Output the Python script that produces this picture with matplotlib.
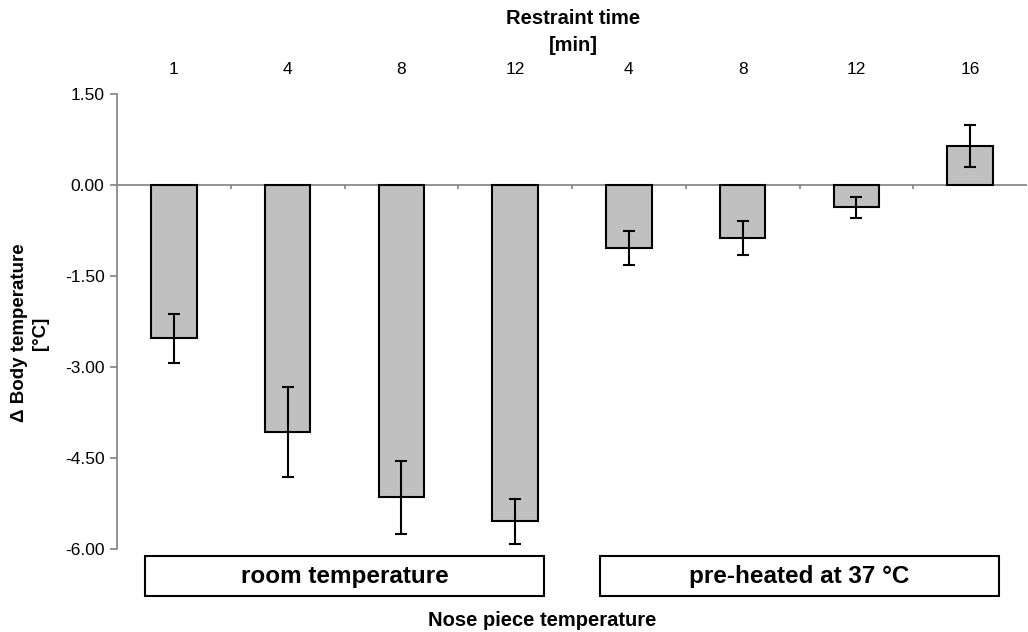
import numpy as np
import matplotlib

matplotlib.use("Agg")
import matplotlib.pyplot as plt
from matplotlib.patches import Rectangle
import matplotlib.transforms as mtransforms

plt.rcParams["font.family"] = ["Liberation Sans", "DejaVu Sans"]

restraint_min = ["1", "4", "8", "12", "4", "8", "12", "16"]
delta_temp = [-2.53, -4.07, -5.15, -5.54, -1.04, -0.87, -0.37, 0.64]
delta_err = [0.40, 0.745, 0.60, 0.37, 0.28, 0.28, 0.18, 0.35]
groups = ["room temperature", "pre-heated at 37 °C"]
group_members = [[0, 1, 2, 3], [4, 5, 6, 7]]
yticks = [1.5, 0.0, -1.5, -3.0, -4.5, -6.0]

W, H = 1028, 632
fig = plt.figure(figsize=(W / 100, H / 100), dpi=100)
ax = fig.add_axes([117 / W, (H - 549) / H, 910 / W, 455 / H])

x = np.arange(len(delta_temp))
ax.bar(x, delta_temp, width=0.4, color="#c0c0c0", edgecolor="black",
       linewidth=1.5, zorder=3)
ax.errorbar(x, delta_temp, yerr=delta_err, fmt="none", ecolor="black",
            elinewidth=1.5, capsize=4.5, capthick=1.5, zorder=4)

ax.set_xlim(-0.5, len(x) - 0.5)
ax.set_ylim(-6, 1.5)
ax.axhline(0, color="#808080", lw=1.2, zorder=2)
# small category ticks hanging below the zero line
bounds = x[:-1] + 0.5
ax.vlines(bounds, -0.07, 0, color="#808080", lw=1.2, zorder=2)

for s in ["top", "right", "bottom"]:
    ax.spines[s].set_visible(False)
ax.spines["left"].set_color("#808080")
ax.spines["left"].set_linewidth(1.2)

ax.set_yticks(yticks)
ax.set_yticklabels([f"{v:.2f}" for v in yticks], fontsize=12.5)
ax.tick_params(axis="y", length=5, color="#808080", width=1.2, pad=4)

ax.xaxis.tick_top()
ax.set_xticks(x)
ax.set_xticklabels(restraint_min, fontsize=12.5)
ax.tick_params(axis="x", length=0, pad=12)

# group boxes below the plot
trans = mtransforms.blended_transform_factory(ax.transData, ax.transAxes)
for name, members in zip(groups, group_members):
    c = np.mean(members)
    rect = Rectangle((c - 1.75, -0.103), 3.5, 0.088, transform=trans,
                     facecolor="white", edgecolor="black", lw=1.5,
                     clip_on=False)
    ax.add_patch(rect)
    ax.text(c, -0.06, name, transform=trans, ha="center", va="center",
            fontsize=17.5, fontweight="bold")

fig.text(542 / W, 1 - 621 / H, "Nose piece temperature", ha="center",
         va="center", fontsize=14.5, fontweight="bold")
fig.text(573 / W, 1 - 32 / H, "Restraint time\n[min]", ha="center",
         va="center", fontsize=14.5, fontweight="bold", linespacing=1.55)
fig.text(30 / W, 1 - 333 / H, "\u0394 Body temperature\n[°C]", ha="center",
         va="center", rotation=90, fontsize=13.5, fontweight="bold",
         linespacing=1.3)

fig.savefig("out.png", dpi=100)
